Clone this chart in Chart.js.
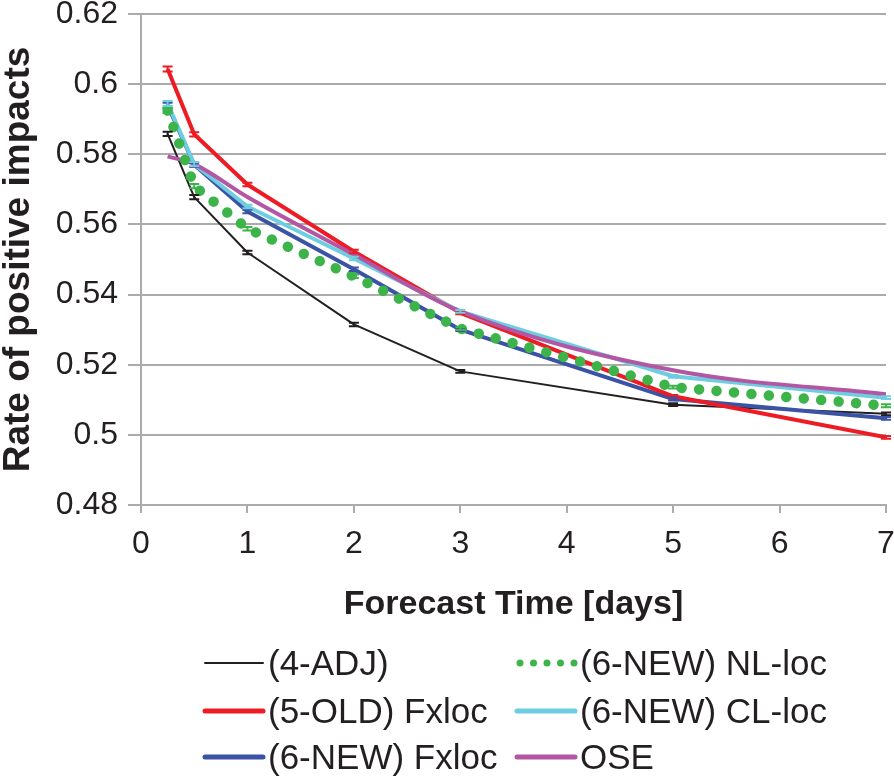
<!DOCTYPE html>
<html>
<head>
<meta charset="utf-8">
<script src="https://cdn.jsdelivr.net/npm/chart.js@4.4.1/dist/chart.umd.min.js"></script>
<style>
html,body{margin:0;padding:0;background:#fff;}
#wrap{width:894px;height:779px;position:relative;}
</style>
</head>
<body>
<div id="wrap"><canvas id="c" width="894" height="779"></canvas></div>
<script>
// ---- data ----
const forecastDays = [0.25, 0.5, 1, 2, 3, 5, 7];
const seriesNames = ['(4-ADJ)', '(5-OLD) Fxloc', '(6-NEW) Fxloc', '(6-NEW) NL-loc', '(6-NEW) CL-loc', 'OSE'];
const adj4    = [0.5858, 0.5678, 0.5520, 0.5315, 0.5181, 0.5086, 0.5060];
const old5Fx  = [0.6043, 0.5857, 0.5714, 0.5523, 0.5348, 0.5110, 0.4993];
const new6Fx  = [0.5940, 0.5770, 0.5637, 0.5472, 0.5300, 0.5102, 0.5047];
const new6NL  = [0.5925, 0.5709, 0.5588, 0.5452, 0.5303, 0.5136, 0.5083];
const new6CL  = [0.5945, 0.5772, 0.5651, 0.5503, 0.5352, 0.5167, 0.5106];
const ose     = [0.5794, 0.5772, 0.5678, 0.5514, 0.5352, 0.5184, 0.5116];
const errAdj  = [0.0006, 0.0006, 0.0005, 0.0005, 0.0004, 0.0004, 0.0004];
const errOld  = [0.0007, 0.0006, 0.0005, 0.0005, 0.0004, 0.0004, 0.0004];
const errNew  = [0.0007, 0.0006, 0.0005, 0.0005, 0.0004, 0.0004, 0.0004];
const errNL   = [0.0007, 0.0006, 0.0005, 0.0005, 0.0004, 0.0004, 0.0004];
const errCL   = [0.0007, 0.0006, 0.0005, 0.0005, 0.0004, 0.0004, 0.0004];
const yTickMin = 0.48, yTickMax = 0.62, yTickStep = 0.02;
const xTickMin = 0, xTickMax = 7, xTickStep = 1;
const xTitle = 'Forecast Time [days]';
const yTitle = 'Rate of positive impacts';

const FONT = '"Liberation Sans", Arial, Helvetica, sans-serif';
const TXT = '#231f20';

function pts(vals){ return forecastDays.map((d,i)=>({x:d, y:vals[i]})); }

const datasets = [
  {label: seriesNames[0], data: pts(adj4),   err: errAdj, borderColor:'#231f20', borderWidth:2, order:6, legendW:2},
  {label: seriesNames[1], data: pts(old5Fx), err: errOld, borderColor:'#ed1c24', borderWidth:4, order:4, legendW:5},
  {label: seriesNames[2], data: pts(new6Fx), err: errNew, borderColor:'#3a53a4', borderWidth:4, order:5, legendW:5},
  {label: seriesNames[3], data: pts(new6NL), err: errNL,  borderColor:'#3cb44a', borderWidth:10.5, order:1, legendW:7,
     borderDash:[0.01, 17.5], borderCapStyle:'round', dotted:true},
  {label: seriesNames[4], data: pts(new6CL), err: errCL,  borderColor:'#6dcde1', borderWidth:4, order:3, legendW:5},
  {label: seriesNames[5], data: pts(ose),    err: null,   borderColor:'#b357a5', borderWidth:4, order:2, legendW:5,
     tension:0.4, cubicInterpolationMode:'monotone'}
].map(d => Object.assign({pointRadius:0, pointHoverRadius:0, fill:false, tension:0, borderJoinStyle:'round'}, d));

const errorBars = {
  id:'errorBars',
  afterDatasetsDraw(chart){
    const ctx = chart.ctx, ys = chart.scales.y;
    chart.data.datasets.forEach((ds, di) => {
      if (!ds.err) return;
      const meta = chart.getDatasetMeta(di);
      ctx.save();
      ctx.strokeStyle = ds.borderColor;
      ctx.lineWidth = 2;
      meta.data.forEach((el, i) => {
        const v = ds.data[i].y, e = ds.err[i];
        const yt = ys.getPixelForValue(v + e), yb = ys.getPixelForValue(v - e);
        ctx.beginPath();
        ctx.moveTo(el.x, yt); ctx.lineTo(el.x, yb);
        ctx.moveTo(el.x - 5, yt); ctx.lineTo(el.x + 5, yt);
        ctx.moveTo(el.x - 5, yb); ctx.lineTo(el.x + 5, yb);
        ctx.stroke();
      });
      ctx.restore();
    });
  }
};

const gridLegend = {
  id:'gridLegend',
  afterDraw(chart){
    const ctx = chart.ctx;
    const colX = [205, 517], lineLen = 58, gap = 5;
    const rowY = [663, 711, 757];
    ctx.save();
    ctx.font = '35px ' + FONT;
    ctx.textBaseline = 'middle';
    ctx.textAlign = 'left';
    chart.data.datasets.forEach((ds, i) => {
      const col = Math.floor(i / 3), row = i % 3;
      const x0 = colX[col], y = rowY[row];
      ctx.strokeStyle = ds.borderColor;
      ctx.lineWidth = ds.legendW;
      ctx.lineCap = 'round';
      if (ds.dotted) {
        ctx.fillStyle = ds.borderColor;
        for (let k = 0; k < 5; k++) {
          ctx.beginPath();
          ctx.arc(x0 + 3 + k * 13.5, y, 3.5, 0, Math.PI * 2);
          ctx.fill();
        }
      } else {
        ctx.beginPath();
        ctx.moveTo(x0, y); ctx.lineTo(x0 + lineLen, y);
        ctx.stroke();
      }
      ctx.fillStyle = TXT;
      ctx.fillText(ds.label, x0 + lineLen + gap, y + 2);
    });
    ctx.restore();
  }
};

new Chart(document.getElementById('c'), {
  type:'line',
  data:{datasets},
  options:{
    responsive:false,
    animation:false,
    devicePixelRatio:1,
    layout:{padding:{top:14, right:8, bottom:154, left:0}},
    plugins:{legend:{display:false}, tooltip:{enabled:false}},
    scales:{
      x:{
        type:'linear', min:xTickMin, max:xTickMax,
        ticks:{stepSize:xTickStep, color:TXT, font:{family:FONT, size:32}, padding:12, maxRotation:0},
        grid:{drawOnChartArea:false, drawTicks:true, tickLength:8, color:'#ababab', lineWidth:2},
        border:{display:true, color:'#ababab', width:2},
        title:{display:true, text:xTitle, color:TXT, font:{family:FONT, size:34, weight:'bold', lineHeight:1.2}, padding:0},
        afterFit(s){ s.height = 120; s.paddingLeft = 0; s.paddingRight = 0; }
      },
      y:{
        type:'linear', min:yTickMin, max:yTickMax,
        ticks:{stepSize:yTickStep, color:TXT, font:{family:FONT, size:32}, padding:10,
               callback:(v)=>String(Math.round(v*100)/100)},
        grid:{color:'#ababab', lineWidth:2, tickLength:13, drawTicks:true},
        border:{display:true, color:'#ababab', width:2},
        title:{display:true, text:yTitle, color:TXT, font:{family:FONT, size:37, weight:'bold', lineHeight:1.0}, padding:0},
        afterFit(s){ s.width = 141; s.paddingTop = 0; s.paddingBottom = 0; }
      }
    }
  },
  plugins:[errorBars, gridLegend]
});
</script>
</body>
</html>
